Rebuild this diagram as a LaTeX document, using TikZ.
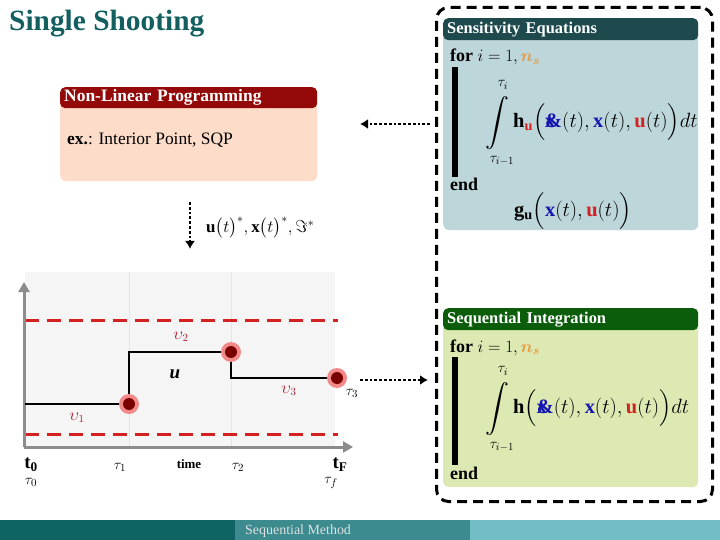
\documentclass[tikz,border=0pt]{standalone}
\usepackage{amsmath, amssymb}
\usepackage{fontspec}
\setmainfont{Liberation Serif}
\usetikzlibrary{arrows.meta}

\definecolor{titleteal}{HTML}{135F60}
\definecolor{senshead}{HTML}{1E4A4E}
\definecolor{sensbg}{HTML}{BCD6DA}
\definecolor{nlphead}{HTML}{930808}
\definecolor{nlpbg}{HTML}{FDDCC9}
\definecolor{inthead}{HTML}{0B5D0B}
\definecolor{intbg}{HTML}{DDE9B3}
\definecolor{ured}{HTML}{D42020}
\definecolor{xblue}{HTML}{1515B0}
\definecolor{nsorange}{HTML}{E8983A}
\definecolor{upsred}{HTML}{A01C2A}
\definecolor{halored}{HTML}{F28A8A}
\definecolor{dotred}{HTML}{7A0000}
\definecolor{axisgray}{HTML}{8C8C8C}
\definecolor{bardark}{HTML}{0F6363}
\definecolor{barmid}{HTML}{3B8B8F}
\definecolor{barlight}{HTML}{72BEC6}

\newcommand{\xampdot}{{\color{xblue}\rlap{$\mathbf{x}$}\textbf{\&}}}
\newcommand{\uvec}{{\color{ured}\mathbf{u}}}
\newcommand{\xvec}{{\color{xblue}\mathbf{x}}}

\tikzset{
  panel/.style={rounded corners=6bp, anchor=north west, inner sep=0pt},
  hdr/.style={rounded corners=5bp, anchor=north west, text=white,
    font=\fontsize{16.5}{19}\selectfont\bfseries, inner xsep=4bp,
    inner ysep=0pt, minimum height=22bp, align=left},
  mtxt/.style={anchor=base west, inner sep=0pt, font=\fontsize{18}{21}\selectfont},
  mexpr/.style={anchor=west, inner sep=0pt, font=\fontsize{20.5}{24}\selectfont},
  bigint/.style={inner sep=0pt, font=\fontsize{24}{28}\selectfont},
  lim/.style={inner sep=0pt, font=\fontsize{15}{18}\selectfont},
  dotarrow/.style={dotted, line width=2.8bp, -{Latex[length=8bp, width=10bp]}},
  bound/.style={dashed, dash pattern=on 14bp off 8bp, line width=3bp, ured},
  axis/.style={line width=3bp, axisgray, -{Triangle[length=10bp, width=11bp]}},
  ups/.style={inner sep=0pt, text=upsred, font=\fontsize{16}{18}\selectfont},
  tick/.style={inner sep=0pt, font=\fontsize{15}{18}\selectfont}
}

\begin{document}
\begin{tikzpicture}[x=1bp, y=-1bp]
    \useasboundingbox (0, 0) rectangle (720, 540);

    \node (title) [anchor=base west, inner sep=0pt, text=titleteal,
    font=\fontsize{29.5}{34}\selectfont\bfseries] at (9, 31) {Single Shooting};

    % boxes on the right
    \node (outer) [draw, line width=3bp, dash pattern=on 10bp off 6bp,
    rounded corners=12bp, anchor=north west, inner sep=0pt,
    minimum width=276bp, minimum height=494bp] at (435, 6) {};

    \node (sensbox) [panel, fill=sensbg, minimum width=255bp,
    minimum height=212bp] at (443, 18) {};
    \node (senshdr) [hdr, fill=senshead, text width=247bp] at (443, 18)
    {Sensitivity Equations};

    \node (sfor) [mtxt] at (450, 62) {\textbf{for} $i=1,{\color{nsorange}\boldsymbol{n}_{\boldsymbol{s}}}$};
    \fill (452, 67) rectangle (458, 177);
    \node (send) [mtxt] at (450, 191) {\textbf{end}};
    \node (sint) [bigint] at (497, 123) {$\displaystyle\int$};
    \node (stop) [lim] at (503, 85) {$\tau_i$};
    \node (sbot) [lim] at (502, 161) {$\tau_{i-1}$};
    \node (shu) [mexpr] at (513, 122)
    {$\mathbf{h}_{\uvec}\Bigl(\xampdot(t),\xvec(t),\uvec(t)\Bigr)dt$};
    \node (sgu) [mexpr] at (514, 211)
    {$\mathbf{g}_{\mathbf{u}}\Bigl(\xvec(t),\uvec(t)\Bigr)$};

    \node (intbox) [panel, fill=intbg, minimum width=255bp,
    minimum height=179bp] at (443, 308) {};
    \node (inthdr) [hdr, fill=inthead, text width=247bp] at (443, 308)
    {Sequential Integration};

    \node (ifor) [mtxt] at (450, 352) {\textbf{for} $i=1,{\color{nsorange}\boldsymbol{n}_{\boldsymbol{s}}}$};
    \fill (452, 357) rectangle (458, 465);
    \node (iend) [mtxt] at (450, 479) {\textbf{end}};
    \node (iint) [bigint] at (497, 409) {$\displaystyle\int$};
    \node (itop) [lim] at (503, 371) {$\tau_i$};
    \node (ibot) [lim] at (502, 447) {$\tau_{i-1}$};
    \node (ih) [mexpr] at (513, 408)
    {$\mathbf{h}\Bigl(\xampdot(t),\xvec(t),\uvec(t)\Bigr)dt$};

    % optimiser
    \node (nlpbox) [panel, fill=nlpbg, minimum width=257bp,
    minimum height=94bp] at (60, 87) {};
    \node (nlphdr) [hdr, fill=nlphead, text width=249bp, minimum height=21bp,
    font=\fontsize{17.5}{20}\selectfont\bfseries] at (60, 87) {Non-Linear Programming};
    \node (nlptxt) [anchor=base west, inner sep=0pt,
    font=\fontsize{17.5}{20}\selectfont] at (67, 145) {\textbf{ex.}: Interior Point, SQP};

    \coordinate (nlpin) at (360, 124);
    \draw [dotarrow] ([xshift=-5bp]outer.west |- nlpin) -- (nlpin);

    \coordinate (optout) at (190, 202);
    \coordinate (optend) at (190, 249);
    \draw [dotarrow] (optout) -- (optend);
    \node (optlbl) [anchor=west, inner sep=0pt, font=\fontsize{17}{20}\selectfont]
    at (206, 228) {$\mathbf{u}\bigl(t\bigr)^{*},\mathbf{x}\bigl(t\bigr)^{*},\Im^{*}$};

    % control profile
    \fill [black!4] (25, 272) rectangle (335, 447);
    \draw [black!10, line width=1bp] (129, 272) -- (129, 447)
    (231, 272) -- (231, 447);

    \draw [bound] (25, 320) -- (338, 320);
    \draw [bound] (25, 434) -- (338, 434);

    \coordinate (orig) at (24, 447);
    \coordinate (ytop) at (24, 282);
    \coordinate (xend) at (353, 447);
    \draw [axis] (orig) -- (ytop);
    \draw [axis] (orig) -- (xend);

    \coordinate (p0) at (25, 404);
    \coordinate (p1) at (129, 404);
    \coordinate (p2) at (231, 352);
    \coordinate (p3) at (337, 378);
    \draw [line width=2.5bp] (p0) -- (p1) |- (p2) |- (p3);

    \foreach \p in {p1, p2, p3} {
      \fill [halored] (\p) circle (10bp);
      \fill [dotred] (\p) circle (6bp);
    }

    \node (u1) [ups] at (77, 418) {$\upsilon_1$};
    \node (u2) [ups] at (181, 337) {$\upsilon_2$};
    \node (u3) [ups] at (289, 391) {$\upsilon_3$};
    \node (ulbl) [inner sep=0pt, font=\fontsize{19}{22}\selectfont]
    at (175, 374) {\textbf{\textit{u}}};
    \node (tau3) [tick] at (352, 393) {$\tau_3$};

    \node (t0) [inner sep=0pt, font=\fontsize{19}{22}\selectfont]
    at (31, 465) {$\mathbf{t_0}$};
    \node (tau0) [tick] at (31, 482) {$\tau_0$};
    \node (tau1) [tick] at (120, 467) {$\tau_1$};
    \node (time) [inner sep=0pt, font=\fontsize{13}{15}\selectfont\bfseries]
    at (189, 464) {time};
    \node (tau2) [tick] at (238, 467) {$\tau_2$};
    \node (tF) [inner sep=0pt, font=\fontsize{19}{22}\selectfont]
    at (340, 465) {$\mathbf{t_F}$};
    \node (tauf) [tick] at (331, 483) {$\tau_f$};

    \coordinate (simout) at (360, 380);
    \coordinate (simin) at (428, 380);
    \draw [dotarrow] (simout) -- (simin);

    % footer
    \fill [bardark] (0, 520) rectangle (235, 540);
    \fill [barmid] (235, 520) rectangle (470, 540);
    \fill [barlight] (470, 520) rectangle (720, 540);
    \node (foot) [anchor=base west, inner sep=0pt, text=white!88!black,
    font=\fontsize{14}{16}\selectfont] at (245, 534) {Sequential Method};

  \end{tikzpicture}
\end{document}
